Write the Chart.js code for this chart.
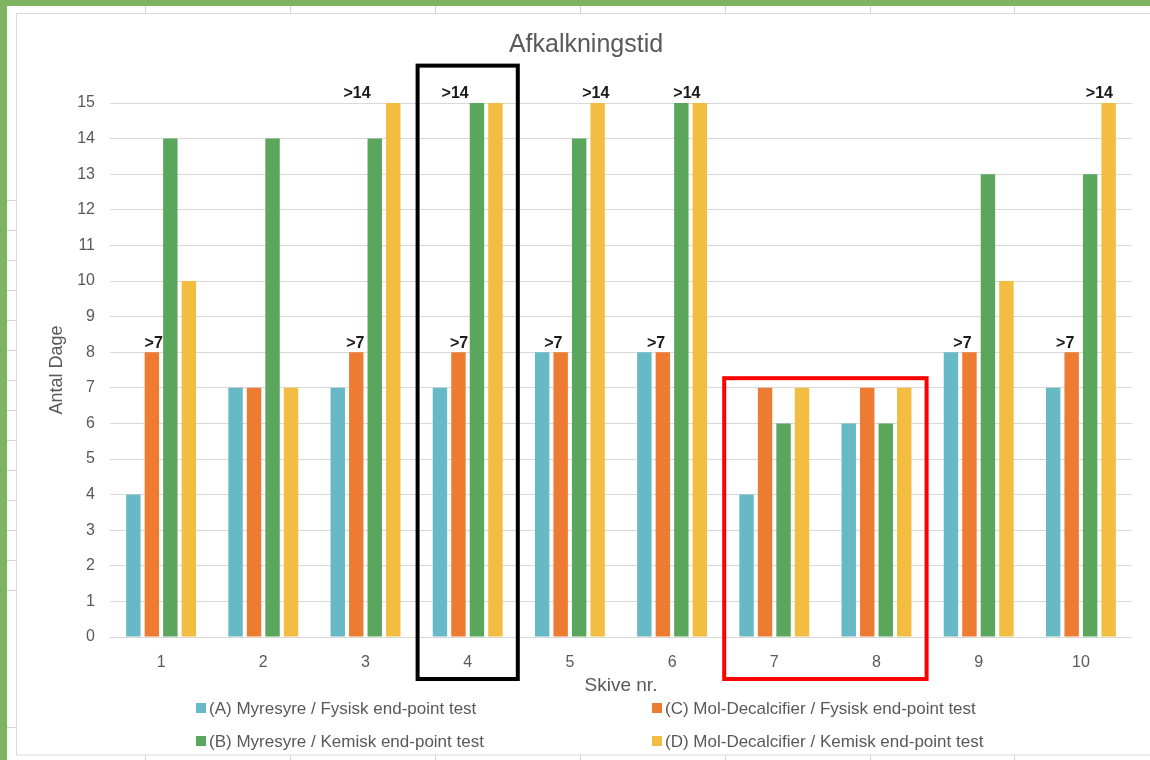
<!DOCTYPE html>
<html>
<head>
<meta charset="utf-8">
<title>Afkalkningstid</title>
<script src="https://cdn.jsdelivr.net/npm/chart.js@4.4.1/dist/chart.umd.min.js"></script>
<style>
  html, body { margin: 0; padding: 0; background: #fff; }
  #wrap { position: relative; width: 1150px; height: 760px; }
</style>
</head>
<body>
<div id="wrap"><canvas id="chart" width="1150" height="760"></canvas></div>
<script>
// Afkalkningstid — grouped bar chart, Chart.js 4.x

// --- Data ---
const skiver = ['1', '2', '3', '4', '5', '6', '7', '8', '9', '10'];
const serieA = [4, 7, 7, 7, 8, 8, 4, 6, 8, 7];        // (A) Myresyre / Fysisk
const serieC = [8, 7, 8, 8, 8, 8, 7, 7, 8, 8];        // (C) Mol-Decalcifier / Fysisk
const serieB = [14, 14, 14, 15, 14, 15, 6, 6, 13, 13]; // (B) Myresyre / Kemisk
const serieD = [10, 7, 15, 15, 15, 15, 7, 7, 10, 15];  // (D) Mol-Decalcifier / Kemisk
const yTicks = [0, 15];

// ">7" / ">14" notes: category index, slot inside group (0 = A ... 3 = D), text, value
const noteCats = [0, 2, 3, 4, 5, 8, 9, 2, 3, 4, 5, 9];
const noteSlots = [1.1, 0.95, 1.03, 0.6, 0.63, 0.62, 0.65, 1.04, 0.82, 2.9, 2.3, 2.5];
const noteTexts = ['>7', '>7', '>7', '>7', '>7', '>7', '>7', '>14', '>14', '>14', '>14', '>14'];
const noteValues = [8, 8, 8, 8, 8, 8, 8, 15, 15, 15, 15, 15];

// highlight boxes: first/last category index, top value
const boxFrom = [3, 6];
const boxTo = [3, 7];
const boxTop = [16.05, 7.27];

document.addEventListener('DOMContentLoaded', function () {

    const colA = '#67BAC5';
    const colC = '#EE7B32';
    const colB = '#5AA65C';
    const colD = '#F3BD42';
    const textGrey = '#595959';
    const gridGrey = '#d9d9d9';
    const font = '"Liberation Sans", Arial, Helvetica, sans-serif';

    // --- Spreadsheet background (green frame, cell lines, chart frame) ---
    const sheetPlugin = {
        id: 'sheet',
        beforeDraw(chart) {
            const ctx = chart.ctx;
            ctx.save();
            ctx.fillStyle = '#fff';
            ctx.fillRect(0, 0, 1150, 760);

            ctx.strokeStyle = '#d4d4d4';
            ctx.lineWidth = 1;
            const cols = [145, 290, 435, 580, 725, 870, 1014];
            cols.forEach(function (x) {
                ctx.beginPath();
                ctx.moveTo(x + 0.5, 6);
                ctx.lineTo(x + 0.5, 13);
                ctx.moveTo(x + 0.5, 755);
                ctx.lineTo(x + 0.5, 760);
                ctx.stroke();
            });
            for (let y = 200; y <= 590; y += 30) {
                ctx.beginPath();
                ctx.moveTo(7, y + 0.5);
                ctx.lineTo(16, y + 0.5);
                ctx.stroke();
            }
            ctx.beginPath();
            ctx.moveTo(7, 727.5);
            ctx.lineTo(16, 727.5);
            ctx.stroke();

            // chart frame
            ctx.strokeStyle = '#d9d9d9';
            ctx.strokeRect(16.5, 13.5, 1160, 741.5);

            // green selection band
            ctx.fillStyle = '#7EB45F';
            ctx.fillRect(0, 0, 1150, 6);
            ctx.fillRect(0, 0, 7, 760);
            ctx.restore();
        }
    };

    // --- Notes, highlight boxes and legend ---
    const extrasPlugin = {
        id: 'extras',
        afterDraw(chart) {
            const ctx = chart.ctx;
            const xs = chart.scales.x;
            const ys = chart.scales.y;
            const metaA = chart.getDatasetMeta(0);
            const metaD = chart.getDatasetMeta(3);
            ctx.save();

            // notes
            ctx.fillStyle = '#1a1a1a';
            ctx.font = 'bold 16px ' + font;
            ctx.textAlign = 'center';
            ctx.textBaseline = 'bottom';
            noteTexts.forEach(function (t, k) {
                const i = noteCats[k];
                const x0 = metaA.data[i].x;
                const x3 = metaD.data[i].x;
                const x = x0 + noteSlots[k] * (x3 - x0) / 3;
                const y = ys.getPixelForValue(noteValues[k]) - 1;
                ctx.fillText(t, x, y);
            });

            // highlight boxes
            const catW = (xs.right - xs.left) / skiver.length;
            const boxColors = ['#000000', '#ff0000'];
            ctx.lineWidth = 4;
            boxFrom.forEach(function (f, k) {
                const left = xs.getPixelForValue(f) - catW / 2 + 1;
                const right = xs.getPixelForValue(boxTo[k]) + catW / 2 - 1;
                const top = ys.getPixelForValue(boxTop[k]);
                const bottom = ys.bottom + 42;
                ctx.strokeStyle = boxColors[k];
                ctx.strokeRect(left, top, right - left, bottom - top);
            });

            // legend (two columns)
            ctx.font = '17px ' + font;
            ctx.textAlign = 'left';
            ctx.textBaseline = 'middle';
            const items = chart.data.datasets;
            const colX = [196, 652];
            const rowY = [708, 741];
            items.forEach(function (ds, k) {
                const x = colX[k % 2];
                const y = rowY[Math.floor(k / 2)];
                ctx.fillStyle = ds.backgroundColor;
                ctx.fillRect(x, y - 5, 10, 10);
                ctx.fillStyle = textGrey;
                ctx.fillText(ds.label, x + 13, y + 1);
            });
            ctx.restore();
        }
    };

    // --- Create chart ---
    const ctx = document.getElementById('chart').getContext('2d');

    new Chart(ctx, {
        type: 'bar',
        data: {
            labels: skiver,
            datasets: [
                { label: '(A) Myresyre / Fysisk end-point test', data: serieA, backgroundColor: colA },
                { label: '(C) Mol-Decalcifier / Fysisk end-point test', data: serieC, backgroundColor: colC },
                { label: '(B) Myresyre / Kemisk end-point test', data: serieB, backgroundColor: colB },
                { label: '(D) Mol-Decalcifier / Kemisk end-point test', data: serieD, backgroundColor: colD }
            ]
        },
        options: {
            responsive: false,
            animation: false,
            devicePixelRatio: 1,
            categoryPercentage: 0.724,
            barPercentage: 0.78,
            layout: { padding: { top: 20, left: 40, right: 18, bottom: 63 } },
            plugins: {
                title: {
                    display: true,
                    text: 'Afkalkningstid',
                    font: { family: font, size: 25, weight: 'normal' },
                    color: textGrey,
                    padding: { top: 10, bottom: 43 }
                },
                legend: { display: false },
                tooltip: { enabled: false }
            },
            scales: {
                x: {
                    grid: { display: false },
                    border: { display: false },
                    ticks: { color: textGrey, font: { family: font, size: 16 }, padding: 8 },
                    title: {
                        display: true,
                        text: 'Skive nr.',
                        color: textGrey,
                        font: { family: font, size: 19 },
                        padding: { top: 0, bottom: 0 }
                    },
                    afterFit(scale) { scale.height = 60; }
                },
                y: {
                    min: yTicks[0],
                    max: yTicks[1],
                    grid: { color: gridGrey, drawTicks: false },
                    border: { display: false },
                    ticks: {
                        stepSize: 1,
                        color: textGrey,
                        font: { family: font, size: 16 },
                        padding: 15
                    },
                    title: {
                        display: true,
                        text: 'Antal Dage',
                        color: textGrey,
                        font: { family: font, size: 18 },
                        padding: { top: 6, bottom: 0 }
                    },
                    afterFit(scale) { scale.width = 70; }
                }
            }
        },
        plugins: [sheetPlugin, extrasPlugin]
    });
});
</script>
</body>
</html>
